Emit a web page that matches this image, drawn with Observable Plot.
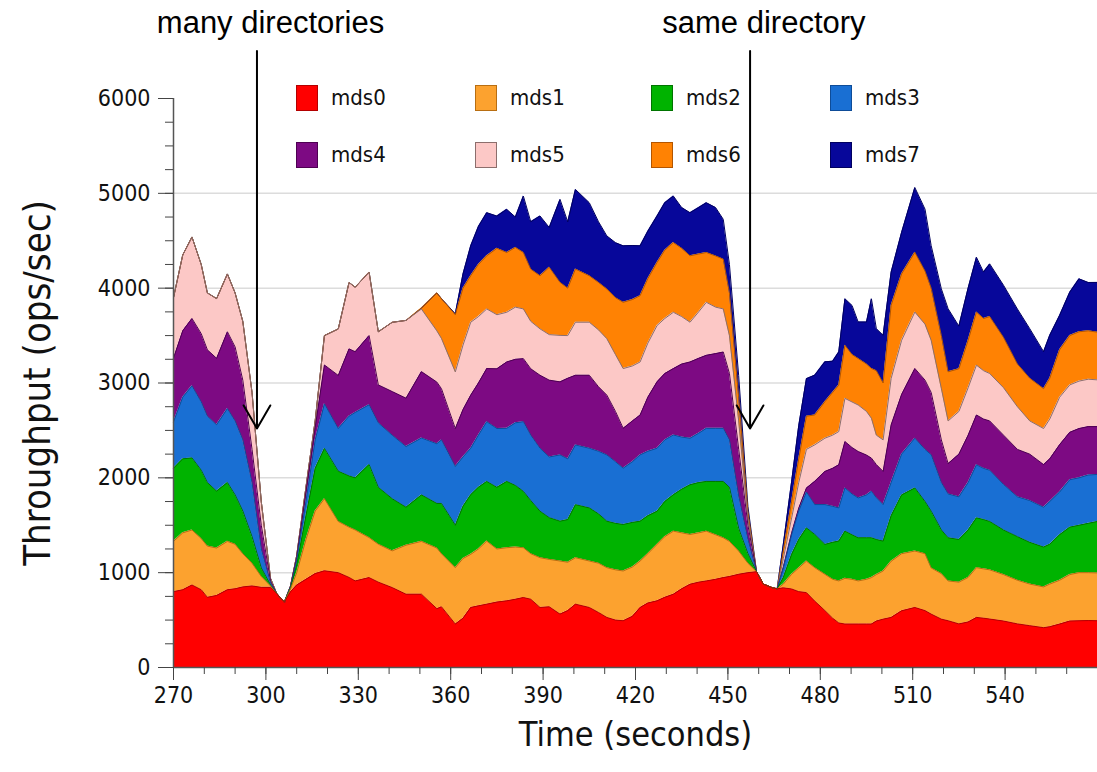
<!DOCTYPE html>
<html>
<head>
<meta charset="utf-8">
<script src="https://cdn.jsdelivr.net/npm/d3@7"></script>
<script src="https://cdn.jsdelivr.net/npm/@observablehq/plot@0.6"></script>
<style>
  html, body { margin: 0; padding: 0; background: #fff; }
  #wrap { position: relative; width: 1097px; height: 772px; overflow: hidden; }
  #legend { position: absolute; left: 0; top: 0; width: 1097px; height: 200px; pointer-events: none; }
  .sw { position: absolute; width: 22px; height: 26px; box-sizing: border-box; border: 1.5px solid; }
  .lt { position: absolute; font-family: 'DejaVu Sans Condensed', 'Liberation Sans', sans-serif; font-stretch: condensed; font-size: 22px; line-height: 26px; color: #111; }
</style>
</head>
<body>
<div id="wrap"><div id="chart"></div><div id="legend"></div></div>
<script>
// ---- data ----
const times = [270,273,276,279,281,284,287.5,290,292.5,295.5,298.5,301.5,303.5,306,308,310,313,316,319,323.5,327,329,333.5,336.5,341,345.5,350.5,355.5,357,361.5,364,366.5,369,371.7,375,378.2,381,383.6,386,389,392,395.5,398,400.5,405,408,410.7,413.5,416,419,421.5,424,427,429.5,432.3,435,437.7,440.5,443,446,448.5,450.5,453.5,456.5,459.3,461.5,464.5,466,468,470.7,473,475.5,478.2,481.5,484,486,488,490.3,492.3,495,496.6,498.2,500.4,503,506.4,510.7,514,516,519.3,521.5,525,528,530.7,533,535,539.5,544,548,552.5,554.5,557.7,561,564,567,570];

const mds0 = [800,820,870,820,740,760,820,830,850,860, 845,845,780,690,800,870,930,990,1020,1000, 950,913,948,900,843,773,773,620,640,458, 520,633,650,668,690,703,720,738,720,633, 640,563,600,668,633,580,528,500,493,540, 633,680,703,740,773,830,878,900,913,930, 948,960,983,1000,1010,880,840,830,840,828, 800,790,700,600,520,470,458,458,458,458, 458,490,510,528,598,633,600,563,510,493, 460,480,528,520,511,490,460,441,420,430, 458,490,493,495,493];
const mds1 = [530,600,580,540,540,500,510,470,350,240, 115,15,0,0,30,130,420,660,760,540, 530,537,422,400,387,517,557,640,560,595, 630,560,600,665,560,560,550,525,480,525, 500,560,510,490,490,520,525,530,525,520, 490,520,595,640,665,590,525,520,525,470, 420,370,245,100,0,0,0,0,40,155, 250,332,353,383,410,443,482,472,455,472, 490,490,508,592,602,595,600,487,480,420, 440,470,525,520,519,490,460,439,430,450, 462,490,507,505,504];
const mds2 = [770,780,760,720,670,600,620,520,450,280, 90,10,0,0,10,80,250,450,530,530, 540,550,770,600,550,400,490,470,530,447, 550,629,650,629,650,699,650,594,560,490, 440,420,450,559,560,520,490,490,490,470, 420,400,350,370,384,460,524,530,524,562, 594,570,238,100,0,0,0,0,70,210, 300,350,350,315,390,420,498,470,455,438, 420,370,315,480,620,665,550,598,460,455, 450,500,525,520,510,470,460,440,420,420, 480,500,500,520,543];
const mds3 = [490,650,760,720,700,700,780,780,750,570, 200,20,0,0,10,50,150,300,470,450, 630,690,630,680,670,640,600,630,670,620, 520,490,550,630,620,560,660,735,690,664, 640,699,640,630,629,660,699,650,594,640, 699,680,664,650,630,550,490,520,560,560, 560,500,342,150,0,0,0,0,100,209, 300,378,315,420,380,350,455,430,420,452, 490,440,385,350,430,525,550,595,500,462, 450,500,560,540,540,480,420,440,420,450, 450,500,500,510,496];
const mds4 = [670,700,710,720,700,700,810,780,630,350, 250,20,0,0,5,30,100,130,410,560, 710,640,730,400,460,510,700,650,540,400, 500,560,550,560,630,700,670,665,700,770, 810,770,850,735,770,680,630,530,420,430, 420,570,700,700,700,770,805,790,770,788, 805,700,494,150,0,0,0,0,10,18, 30,42,245,350,400,455,490,490,490,420, 350,350,350,608,630,735,730,657,450,320, 450,500,525,520,520,520,500,490,450,450, 500,500,520,510,504];
const mds5 = [640,800,860,730,600,630,610,570,620,600, 250,30,0,0,5,20,50,70,310,490, 700,680,670,560,730,820,660,540,530,597, 680,769,700,629,570,524,550,524,500,489, 480,490,450,559,559,600,595,600,630,580, 560,570,594,580,594,500,419,490,559,490, 454,400,298,70,0,0,0,0,90,157, 270,408,385,350,350,350,455,480,490,460, 420,310,332,490,570,595,590,550,543,450, 450,500,525,510,500,500,450,350,380,420, 500,500,500,500,493];
const mds6 = [0,0,0,0,0,0,0,0,0,0, 0,0,0,0,0,0,0,0,0,0, 0,0,0,0,0,0,10,400,420,603, 600,490,550,560,700,630,630,595,550,560, 710,559,500,560,490,500,524,600,699,700, 699,680,665,720,735,720,700,610,525,540, 525,450,250,70,0,0,0,0,80,175, 250,350,315,385,450,490,560,500,490,500, 525,680,600,770,700,630,560,550,557,518, 450,500,560,550,600,530,450,450,420,430, 500,520,520,510,503];
const mds7 = [0,0,0,0,0,0,0,0,0,0, 0,0,0,0,0,0,0,0,0,0, 0,0,0,0,0,0,0,0,0,10, 150,315,400,455,340,455,320,595,500,630, 420,875,700,840,770,640,560,580,595,570, 525,500,490,500,490,430,455,490,525,510, 420,300,228,60,0,0,0,0,70,210, 350,396,420,420,330,350,490,518,385,443, 735,443,503,350,438,683,653,448,493,665, 450,550,578,490,556,550,580,523,390,453, 363,458,558,510,525];

const seriesNames = ["mds0","mds1","mds2","mds3","mds4","mds5","mds6","mds7"];
const seriesColors = ["#ff0000","#fca22f","#00b300","#196fd3","#7d0a83","#fcc8c6","#ff8203","#07079a"];
const edgeColors   = ["#b30000","#b86e12","#007400","#0e4c98","#4e0052","#8c6e6c","#b35500","#000060"];

const xTicks = [270,300,330,360,390,420,450,480,510,540];
const xMinorTicks = [270,280,290,300,310,320,330,340,350,360,370,380,390,400,410,420,430,440,450,460,470,480,490,500,510,520,530,540,550,560];
const yTicks = [0,1000,2000,3000,4000,5000,6000];
const yMinorTicks = [0,250,500,750,1000,1250,1500,1750,2000,2250,2500,2750,3000,3250,3500,3750,4000,4250,4500,4750,5000,5250,5500,5750,6000];
const gridTicks = [1000,2000,3000,4000,5000];

const notes = [
  {t: 301.5, v: 6800, label: "many directories"},
  {t: 461.7, v: 6800, label: "same directory"}
];
const arrows = [
  {t: 297.1, from: 6500, to: 2520},
  {t: 457.2, from: 6500, to: 2520}
];

// ---- build tables ----
const seriesValues = [mds0, mds1, mds2, mds3, mds4, mds5, mds6, mds7];
const long = seriesNames.flatMap((s, i) => times.map((t, j) => ({time: t, series: s, value: seriesValues[i][j]})));
const longRev = seriesNames.slice().reverse().flatMap(s => long.filter(d => d.series === s));

const tickFont = "'DejaVu Sans Condensed', 'Liberation Sans', sans-serif";

const chart = Plot.plot({
  width: 1097,
  height: 772,
  marginLeft: 173,
  marginRight: 0,
  marginTop: 98,
  marginBottom: 105,
  style: {fontFamily: tickFont, fontStretch: "condensed", fontSize: "23px", color: "#111", background: "#fff", overflow: "visible"},
  x: {domain: [270, 570], axis: null},
  y: {domain: [0, 6000], axis: null},
  color: {
    domain: [...seriesNames, ...seriesNames.map(s => s + "_edge")],
    range: [...seriesColors, ...edgeColors]
  },
  marks: [
    Plot.ruleY(gridTicks, {stroke: "#dcdcdc", strokeWidth: 1.5}),
    Plot.areaY(long, {x: "time", y: "value", z: "series", fill: "series", order: seriesNames, curve: "linear"}),
    Plot.lineY(longRev, Plot.stackY2({x: "time", y: "value", z: "series", order: seriesNames, stroke: d => d.series + "_edge", strokeWidth: 1, curve: "linear"})),
    Plot.ruleX([270], {stroke: "#555", strokeWidth: 1.5}),
    Plot.ruleY([0], {stroke: "#555", strokeWidth: 1.5}),
    Plot.axisY({ticks: yMinorTicks, tickSize: 8, tickFormat: () => "", stroke: "#444"}),
    Plot.axisY({ticks: yTicks, tickSize: 15, tickPadding: 8, stroke: "#444", fill: "#111", tickFormat: d => String(d)}),
    Plot.axisX({ticks: xMinorTicks, tickSize: 7, tickFormat: () => "", stroke: "#444"}),
    Plot.axisX({ticks: xTicks, tickSize: 13, tickPadding: 6, stroke: "#444", fill: "#111", tickFormat: d => String(d)}),
    Plot.text(["Time (seconds)"], {frameAnchor: "bottom", dy: 78, fontSize: 34, fill: "#111"}),
    Plot.text(["Throughput (ops/sec)"], {frameAnchor: "left", textAnchor: "middle", dx: -136, rotate: -90, fontSize: 38, fill: "#111"}),
    Plot.arrow(arrows, {x1: "t", y1: "from", x2: "t", y2: "to", stroke: "#000", strokeWidth: 2, headLength: 20, headAngle: 60}),
    Plot.text(notes, {x: "t", y: "v", text: "label", fontFamily: "'Liberation Sans', Arial, sans-serif", fontSize: 31, fill: "#000", lineAnchor: "middle"})
  ]
});
document.getElementById("chart").appendChild(chart);

// ---- legend (inside the plot, 4 x 2) ----
const legendCols = [296, 475, 651, 830];
const legendRows = [85, 142];
const legend = document.getElementById("legend");
seriesNames.forEach((s, i) => {
  const left = legendCols[i % 4], top = legendRows[Math.floor(i / 4)];
  const sw = document.createElement("div");
  sw.className = "sw";
  sw.style.left = left + "px";
  sw.style.top = top + "px";
  sw.style.background = seriesColors[i];
  sw.style.borderColor = edgeColors[i];
  legend.appendChild(sw);
  const lt = document.createElement("div");
  lt.className = "lt";
  lt.style.left = (left + 35) + "px";
  lt.style.top = top + "px";
  lt.textContent = s;
  legend.appendChild(lt);
});
</script>
</body>
</html>
